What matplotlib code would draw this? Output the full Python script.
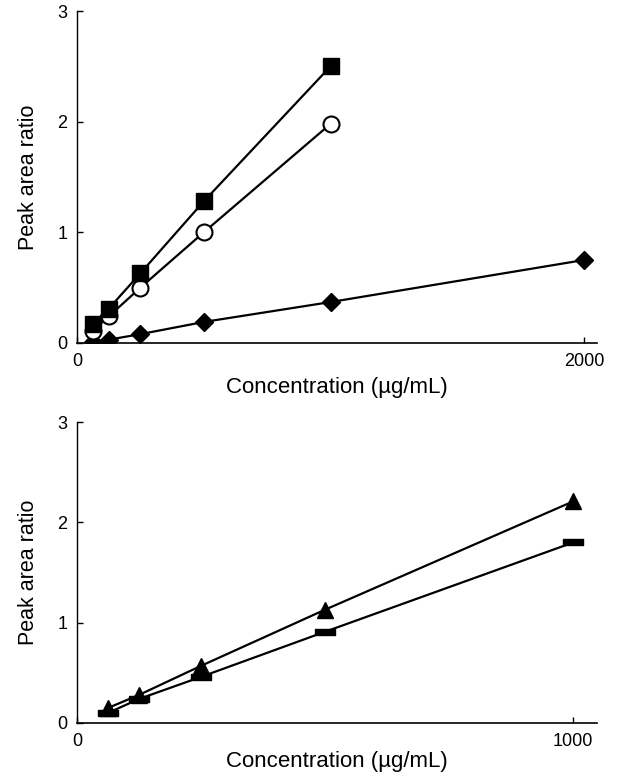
import numpy as np
import matplotlib.pyplot as plt
from matplotlib.path import Path

plt.rcParams['font.family'] = ['Liberation Sans', 'DejaVu Sans']

# top panel data
conc_top = [62.5, 125, 250, 500, 1000]
sq_top = [0.17, 0.31, 0.63, 1.28, 2.50]
circ_top = [0.11, 0.24, 0.50, 1.00, 1.98]
conc_dia = [62.5, 125, 250, 500, 1000, 2000]
dia_top = [0.01, 0.03, 0.08, 0.19, 0.37, 0.75]

# bottom panel data
conc_bot = [62.5, 125, 250, 500, 1000]
tri_bot = [0.15, 0.28, 0.57, 1.13, 2.21]
rect_bot = [0.10, 0.24, 0.46, 0.91, 1.80]

x_label = 'Concentration (\u00b5g/mL)'
y_label = 'Peak area ratio'

# flat rectangle marker
rect_marker = Path([(-1, -0.35), (1, -0.35), (1, 0.35), (-1, 0.35), (-1, -0.35)])

fig = plt.figure(figsize=(6.18, 7.76), dpi=100)
ax1 = fig.add_axes([0.1246, 0.558, 0.8414, 0.4278])
ax2 = fig.add_axes([0.1246, 0.0683, 0.8414, 0.3877])

lw = 1.6
ax1.plot(conc_dia, dia_top, color='black', lw=lw, marker='D', ms=9.5, zorder=2)
ax1.plot(conc_top, circ_top, color='black', lw=lw, marker='o', ms=11.5,
         mfc='white', mec='black', mew=1.5, zorder=3)
ax1.plot(conc_top, sq_top, color='black', lw=lw, marker='s', ms=12, zorder=4)
ax1.set_xlim(0, 2051)
ax1.set_xticks([0, 2000])

ax2.plot(conc_bot, rect_bot, color='black', lw=lw, marker=rect_marker, ms=14, zorder=3)
ax2.plot(conc_bot, tri_bot, color='black', lw=lw, marker='^', ms=12, zorder=4)
ax2.set_xlim(0, 1048)
ax2.set_xticks([0, 1000])

for ax, lp in ((ax1, 5), (ax2, 1)):
    ax.set_ylim(0, 3)
    ax.set_yticks([0, 1, 2, 3])
    ax.spines['top'].set_visible(False)
    ax.spines['right'].set_visible(False)
    ax.spines['left'].set_linewidth(1.0)
    ax.spines['bottom'].set_linewidth(1.2)
    ax.tick_params(direction='in', length=4, width=1, labelsize=13, pad=7)
    ax.set_xlabel(x_label, fontsize=16, labelpad=lp)
    ax.set_ylabel(y_label, fontsize=15.5, labelpad=13)

fig.savefig('out.png', dpi=100)
